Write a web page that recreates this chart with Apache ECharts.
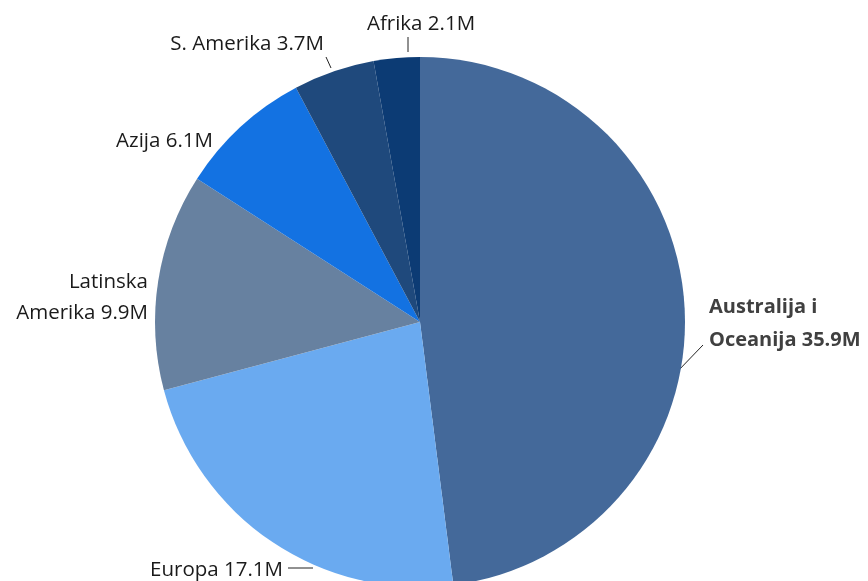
<!DOCTYPE html>
<html>
<head>
<meta charset="utf-8">
<script src="https://cdn.jsdelivr.net/npm/echarts@6/dist/echarts.min.js"></script>
<style>html,body{margin:0;padding:0;background:#fff;}#c{width:868px;height:581px;}</style>
</head>
<body>
<div id="c"></div>
<script>
const categories = ['Australija i\nOceanija', 'Europa', 'Latinska\nAmerika', 'Azija', 'S. Amerika', 'Afrika'];
const values = [35.9, 17.1, 9.9, 6.1, 3.7, 2.1];
const colors = ['#44699a', '#6aaaf0', '#6781a0', '#1372e2', '#1f497c', '#0c3b74'];

// label placement (x, y, align, line points)
const labelPos = [
  {x: 709, y: 324, align: 'left', line: [[676, 373], [703, 345]]},
  {x: 283, y: 570, align: 'right', line: [[313, 568], [288, 568]]},
  {x: 148, y: 298, align: 'right', line: null},
  {x: 213, y: 141, align: 'right', line: null},
  {x: 324, y: 44, align: 'right', line: [[331, 68], [326, 57]]},
  {x: 421, y: 24, align: 'center', line: [[408, 52], [408, 37]]}
];

const chart = echarts.init(document.getElementById('c'));
chart.setOption({
  animation: false,
  series: [{
    type: 'pie',
    center: [420, 322],
    radius: 265,
    startAngle: 90,
    clockwise: true,
    avoidLabelOverlap: false,
    data: categories.map((n, i) => ({
      name: n,
      value: values[i],
      itemStyle: {color: colors[i]},
      label: i === 0 ? {fontWeight: 'bold', color: '#404040', lineHeight: 33, fontSize: 20} : {}
    })),
    label: {
      show: true,
      formatter: p => p.name + ' ' + p.value + 'M',
      fontFamily: 'Open Sans',
      fontSize: 20.5,
      color: '#1a1a1a',
      lineHeight: 31
    },
    labelLine: {show: true, lineStyle: {color: '#222', width: 1}},
    labelLayout: function (params) {
      const lp = labelPos[params.dataIndex];
      const r = {x: lp.x, y: lp.y, align: lp.align, verticalAlign: 'middle'};
      r.labelLinePoints = lp.line ? [lp.line[0], lp.line[1], lp.line[1]] : [[0,0],[0,0],[0,0]];
      return r;
    }
  }]
});
</script>
</body>
</html>
